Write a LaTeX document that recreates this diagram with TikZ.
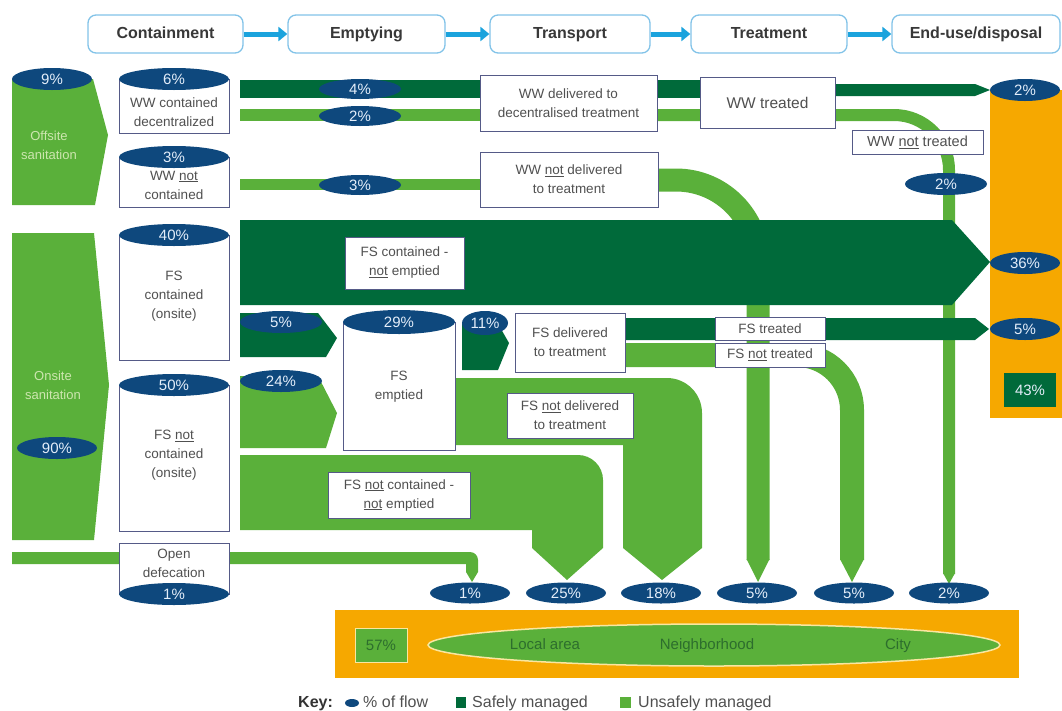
\documentclass[tikz,border=0pt]{standalone}
\usepackage{fontspec}
\setmainfont{Liberation Sans}
\usetikzlibrary{shapes.geometric,arrows.meta}
\definecolor{dg}{RGB}{0,106,58}
\definecolor{lg}{RGB}{90,176,58}
\definecolor{navy}{RGB}{14,72,125}
\definecolor{org}{RGB}{246,168,0}
\definecolor{cyanA}{RGB}{27,163,221}
\definecolor{hbord}{RGB}{130,195,232}
\definecolor{txt}{RGB}{80,80,80}
\definecolor{bbord}{RGB}{85,90,135}
\definecolor{pale}{RGB}{205,230,175}
\definecolor{pcttxt}{RGB}{228,238,250}
\definecolor{ytxt}{RGB}{45,110,45}
\definecolor{ebord}{RGB}{250,230,160}
\begin{document}
\begin{tikzpicture}[x=1pt,y=-1pt,
  hdr/.style={draw=hbord, line width=1.3pt, rounded corners=8pt, fill=white, minimum height=38pt, inner sep=0pt, text height=12pt, text depth=3.5pt, font=\fontsize{16}{18}\selectfont\bfseries, text=black!78},
  pct/.style={ellipse, fill=navy, inner sep=0pt, text height=10.5pt, text depth=0.5pt, text=pcttxt, font=\fontsize{15}{17}\selectfont},
  tbox/.style={draw=bbord, line width=0.8pt, fill=white, inner sep=0pt, align=center, text=txt, font=\fontsize{13.5}{19}\selectfont},
  cylb/.style={draw=bbord, line width=0.8pt, fill=white},
  btxt/.style={align=center, text=txt, inner sep=0pt, font=\fontsize{13.5}{19}\selectfont},
  harr/.style={cyanA, line width=5pt, -{Triangle[length=9pt,width=14pt]}},
  lbl/.style={inner sep=0pt, text height=11pt, text depth=3pt},
  band/.style={draw=lg, line cap=butt},
]
\useasboundingbox (0,0) rectangle (1062,710);

% ---------- header ----------
\node[hdr, minimum width=155pt] (h1) at (165.5,34) {Containment};
\node[hdr, minimum width=157pt] (h2) at (366.5,34) {Emptying};
\node[hdr, minimum width=160pt] (h3) at (570,34) {Transport};
\node[hdr, minimum width=156pt] (h4) at (769,34) {Treatment};
\node[hdr, minimum width=168pt] (h5) at (976,34) {End-use/disposal};
\draw[harr] (h1.east) -- (h2.west);
\draw[harr] (h2.east) -- (h3.west);
\draw[harr] (h3.east) -- (h4.west);
\draw[harr] (h4.east) -- (h5.west);

% ---------- right orange column ----------
\fill[org] (990,90) rectangle (1062,418);

% ---------- verticals (behind) ----------
\draw[band, line width=12pt, rounded corners=55pt] (600,115) -| (949,574);
\fill[lg] (943,573) -- (955,573) -- (949,584) -- cycle;
\draw[band, line width=23pt, rounded corners=82pt] (650,180) -| (758,560);
\fill[lg] (746.5,559) -- (769.5,559) -- (758,582) -- cycle;
\draw[band, line width=24pt, rounded corners=55pt] (620,355) -| (852,560);
\fill[lg] (840,559) -- (864,559) -- (852,582) -- cycle;

% ---------- top wastewater bars ----------
\fill[dg] (240,80) rectangle (770,98);
\fill[dg] (770,84) -- (975,84) -- (990,90) -- (975,96) -- (770,96) -- cycle;
\fill[lg] (240,109) rectangle (720,121);
\fill[lg] (240,179) rectangle (490,190);

% ---------- big dark arrow ----------
\fill[dg] (240,220) -- (952,220) -- (990,262) -- (952,305) -- (240,305) -- cycle;

% ---------- FS treated bar ----------
\fill[dg] (620,318) -- (975,318) -- (989,329) -- (975,340) -- (620,340) -- cycle;

% ---------- emptying arrows ----------
\fill[dg] (240,313) -- (318,313) -- (337,338) -- (326,357) -- (240,357) -- cycle;
\fill[lg] (240,376) -- (318,376) -- (337,413) -- (326,448) -- (240,448) -- cycle;
\fill[dg] (462,322) -- (497,322) -- (509,343) -- (498,370) -- (462,370) -- cycle;

% ---------- FS not delivered (18%) ----------
\fill[lg] (450,378) -- (667,378) .. controls (686.3,378) and (702,393.7) .. (702,413)
  -- (702,548) -- (662,580) -- (623,548) -- (623,445) -- (450,445) -- cycle;

% ---------- FS not contained not emptied (25%) ----------
\fill[lg] (240,455) -- (578,455) .. controls (591.8,455) and (603,466.2) .. (603,480)
  -- (603,548) -- (567,580) -- (532,548) -- (532,530) -- (240,530) -- cycle;

% ---------- open defecation band ----------
\fill[lg] (12,552) -- (470,552) .. controls (474.4,552) and (478,555.6) .. (478,560)
  -- (478,572) -- (472,582) -- (466,572) -- (466,564) -- (12,564) -- cycle;

% ---------- left sanitation blocks ----------
\fill[lg] (12,79) -- (93,79) -- (108,135) -- (95,205) -- (12,205) -- cycle;
\node[pct, minimum width=80pt, minimum height=22pt] (p9) at (52,79) {9\%};
\node[btxt, text=pale, font=\fontsize{13}{19}\selectfont] (offs) at (49,145) {Offsite\\sanitation};
\fill[lg] (12,233) -- (94,233) -- (109,385) -- (94,540) -- (12,540) -- cycle;
\node[btxt, text=pale, font=\fontsize{13}{19}\selectfont] (ons) at (53,385) {Onsite\\sanitation};
\node[pct, minimum width=80pt, minimum height=22pt] (p90) at (57,448) {90\%};

% ---------- containment cylinders ----------
\draw[cylb] (119,79) rectangle (229,133);
\node[pct, minimum width=110pt, minimum height=22pt] (c1p) at (174,79) {6\%};
\node[btxt] (c1t) at (174,112) {WW contained\\decentralized};

\draw[cylb] (119,157) rectangle (229,207);
\node[pct, minimum width=110pt, minimum height=22pt] (c2p) at (174,157) {3\%};
\node[btxt] (c2t) at (174,185) {WW \underline{not}\\contained};

\draw[cylb] (119,235) rectangle (229,360);
\node[pct, minimum width=110pt, minimum height=22pt] (c3p) at (174,235) {40\%};
\node[btxt] (c3t) at (174,296) {FS\\contained\\(onsite)};

\draw[cylb] (119,385) rectangle (229,531);
\node[pct, minimum width=110pt, minimum height=22pt] (c4p) at (174,385) {50\%};
\node[btxt] (c4t) at (174,455) {FS \underline{not}\\contained\\(onsite)};

\draw[cylb] (119,543) rectangle (229,594);
\node[pct, minimum width=110pt, minimum height=22pt] (c5p) at (174,594) {1\%};
\node[btxt] (c5t) at (174,563) {Open\\defecation};

% ---------- FS emptied cylinder ----------
\draw[cylb] (343,322) rectangle (455,450);
\node[pct, minimum width=112pt, minimum height=24pt] (fep) at (399,322) {29\%};
\node[btxt] (fet) at (399,387) {FS\\emptied};

% ---------- flow percentage ellipses ----------
\node[pct, minimum width=82pt, minimum height=20pt] (e4) at (360,89) {4\%};
\node[pct, minimum width=82pt, minimum height=20pt] (e2) at (360,116) {2\%};
\node[pct, minimum width=82pt, minimum height=20pt] (e3) at (360,185) {3\%};
\node[pct, minimum width=82pt, minimum height=22pt] (e5) at (281,322) {5\%};
\node[pct, minimum width=82pt, minimum height=22pt] (e24) at (281,381) {24\%};
\node[pct, minimum width=46pt, minimum height=24pt] (e11) at (485,323) {11\%};
\node[pct, minimum width=82pt, minimum height=22pt] (ewnt) at (946,184) {2\%};

% ---------- text boxes ----------
\node[tbox, minimum width=177pt, minimum height=56pt] (wwdel) at (568.5,103) {WW delivered to\\decentralised treatment};
\node[tbox, minimum width=135pt, minimum height=51pt, font=\fontsize{15.5}{19}\selectfont] (wwtr) at (767.5,102.5) {WW treated};
\node[tbox, minimum width=131pt, minimum height=24pt, font=\fontsize{14.5}{19}\selectfont] (wwnt) at (917.5,142) {WW \underline{not} treated};
\node[tbox, minimum width=178pt, minimum height=55pt] (wwnd) at (569,179.5) {WW \underline{not} delivered\\to treatment};
\node[tbox, minimum width=119pt, minimum height=52pt] (fscne) at (404.5,263) {FS contained -\\\underline{not} emptied};
\node[tbox, minimum width=110pt, minimum height=59pt] (fsdel) at (570,342.5) {FS delivered\\to treatment};
\node[tbox, minimum width=110pt, minimum height=23pt] (fstr) at (770,328.5) {FS treated};
\node[tbox, minimum width=110pt, minimum height=24pt] (fsnt) at (770,355) {FS \underline{not} treated};
\node[tbox, minimum width=126pt, minimum height=45pt] (fsnd) at (570,415.5) {FS \underline{not} delivered\\to treatment};
\node[tbox, minimum width=142pt, minimum height=46pt] (fsncne) at (399,495) {FS \underline{not} contained -\\\underline{not} emptied};

% ---------- right column ellipses ----------
\node[pct, minimum width=70pt, minimum height=22pt] (r2) at (1025,90) {2\%};
\node[pct, minimum width=70pt, minimum height=22pt] (r36) at (1025,263) {36\%};
\node[pct, minimum width=70pt, minimum height=22pt] (r5) at (1025,329) {5\%};
\node[fill=dg, minimum width=52pt, minimum height=34pt, inner sep=0pt, text=pcttxt, font=\fontsize{15}{17}\selectfont] (r43) at (1030,390) {43\%};

% ---------- bottom ellipses ----------
\node[pct, minimum width=80pt, minimum height=21pt] (b1) at (470,593) {1\%};
\node[pct, minimum width=80pt, minimum height=21pt] (b25) at (566,593) {25\%};
\node[pct, minimum width=80pt, minimum height=21pt] (b18) at (661,593) {18\%};
\node[pct, minimum width=80pt, minimum height=21pt] (b5a) at (757,593) {5\%};
\node[pct, minimum width=80pt, minimum height=21pt] (b5b) at (854,593) {5\%};
\node[pct, minimum width=80pt, minimum height=21pt] (b2) at (949,593) {2\%};

% ---------- bottom orange band ----------
\fill[org] (335,610) rectangle (1019,678);
\node[draw=ebord, line width=0.8pt, fill=lg, minimum width=52pt, minimum height=34pt, inner sep=0pt, text=ytxt, font=\fontsize{15}{17}\selectfont] (b57) at (381,645) {57\%};
\node[ellipse, draw=ebord, line width=1.5pt, fill=lg, minimum width=572pt, minimum height=42pt, inner sep=0pt] (area) at (714,645) {};
\node[lbl, text=ytxt, font=\fontsize{15}{17}\selectfont] (la) at (545,645) {Local area};
\node[lbl, text=ytxt, font=\fontsize{15}{17}\selectfont] (nb) at (707,645) {Neighborhood};
\node[lbl, text=ytxt, font=\fontsize{15}{17}\selectfont] (ci) at (898,645) {City};

% ---------- key ----------
\node[lbl, anchor=west, text=black!80, font=\fontsize{16}{18}\selectfont\bfseries] (key) at (298,703) {Key:};
\node[ellipse, fill=navy, minimum width=14pt, minimum height=8pt, inner sep=0pt] (kel) at (352,703) {};
\node[lbl, anchor=west, text=txt, font=\fontsize{16}{18}\selectfont] (k1) at (363,703) {\% of flow};
\fill[dg] (456,697) rectangle (466,708);
\node[lbl, anchor=west, text=txt, font=\fontsize{16}{18}\selectfont] (k2) at (472,703) {Safely managed};
\fill[lg] (620,697) rectangle (631,708);
\node[lbl, anchor=west, text=txt, font=\fontsize{16}{18}\selectfont] (k3) at (638,703) {Unsafely managed};
\end{tikzpicture}
\end{document}
